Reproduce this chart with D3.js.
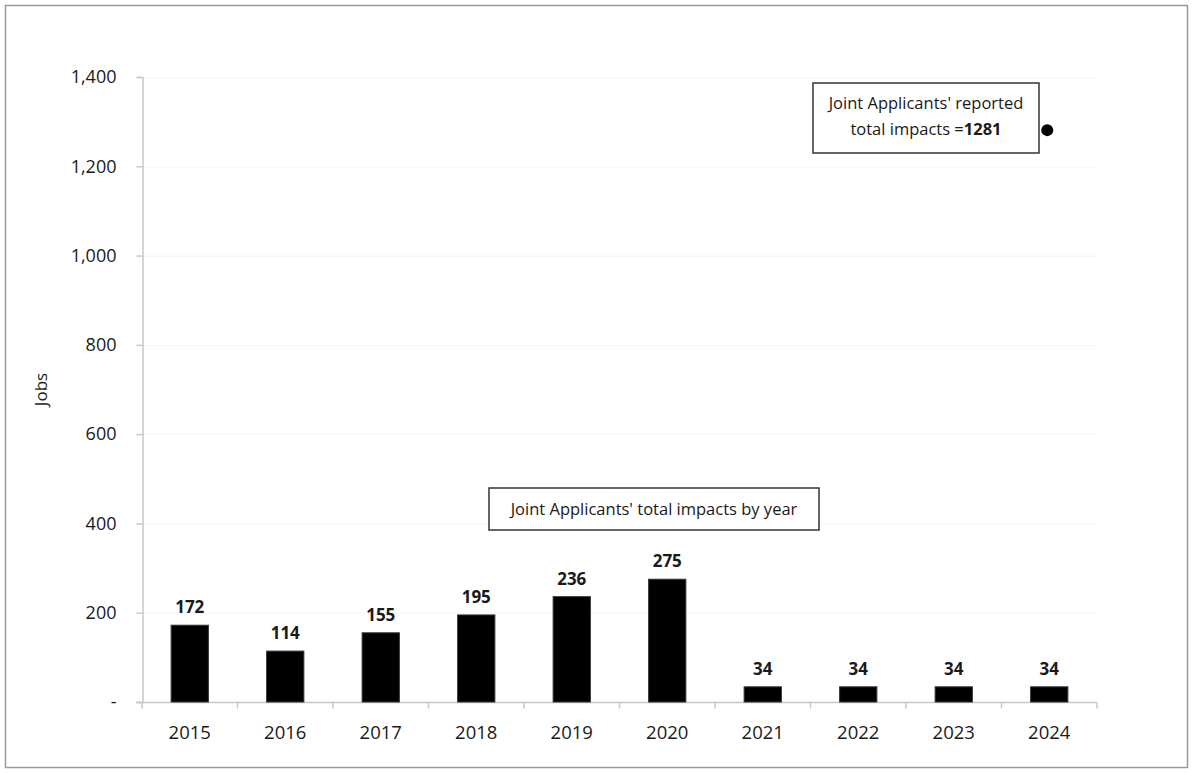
<!DOCTYPE html>
<html>
<head>
<meta charset="utf-8">
<script src="https://cdn.jsdelivr.net/npm/d3@7"></script>
<style>
  body { margin: 0; background: #fff; }
  text { font-family: "Open Sans", sans-serif; fill: #1a1a1a; }
</style>
</head>
<body>
<div id="chart"></div>
<script>
// Joint Applicants' total impacts by year (jobs)

const years = ["2015", "2016", "2017", "2018", "2019", "2020", "2021", "2022", "2023", "2024"];
const jobs = [172, 114, 155, 195, 236, 275, 34, 34, 34, 34];
const yTicks = [0, 200, 400, 600, 800, 1000, 1200, 1400];
const totalYear = "2024";
const totalJobs = 1281;

const width = 1195,
    height = 773,
    margin = ({top: 77, right: 98, bottom: 71, left: 142});

let svg = d3.select("#chart")
    .append("svg")
    .attr("width", width)
    .attr("height", height);

// outer frame
svg.append("rect")
    .attr("x", 5.5).attr("y", 5.5)
    .attr("width", 1182).attr("height", 762)
    .attr("fill", "none")
    .attr("stroke", "#999")
    .attr("stroke-width", 1.5);

let x = d3.scaleBand()
    .domain(years)
    .range([margin.left, width - margin.right])
    .paddingInner(0.61)
    .paddingOuter(0.305);

let band = d3.scaleBand()   // full band for ticks
    .domain(years)
    .range([margin.left, width - margin.right]);

let y = d3.scaleLinear()
    .domain([0, 1400])
    .range([height - margin.bottom, margin.top]);

// faint gridlines
svg.append("g")
    .selectAll("line")
    .data(yTicks.slice(1))
    .join("line")
    .attr("x1", margin.left)
    .attr("x2", width - margin.right)
    .attr("y1", d => y(d) + 0.5)
    .attr("y2", d => y(d) + 0.5)
    .attr("stroke", "#f5f5f5");

// y axis
let yAxis = svg.append("g")
    .attr("transform", `translate(${margin.left + 0.5},0)`)
    .call(d3.axisLeft(y).tickValues(yTicks).tickSize(6).tickPadding(20)
        .tickFormat(d => d === 0 ? "-" : d3.format(",")(d)));
yAxis.select(".domain").attr("stroke", "#c8c8c8").attr("stroke-width", 1.5);
yAxis.selectAll(".tick line").attr("stroke", "#c8c8c8").attr("stroke-width", 1.5);
yAxis.selectAll(".tick text").style("font-size", "18px").attr("fill", "#1a1a1a");

// x axis with ticks between bands
let xAxis = svg.append("g")
    .attr("transform", `translate(0,${height - margin.bottom + 0.5})`);
xAxis.append("line")
    .attr("x1", margin.left - 6).attr("x2", width - margin.right)
    .attr("stroke", "#c8c8c8").attr("stroke-width", 1.5);
xAxis.selectAll(".xt")
    .data(years.concat(["end"]))
    .join("line")
    .attr("class", "xt")
    .attr("x1", (d, i) => i < years.length ? band(d) : band(years[years.length - 1]) + band.bandwidth())
    .attr("x2", (d, i) => i < years.length ? band(d) : band(years[years.length - 1]) + band.bandwidth())
    .attr("y1", 0).attr("y2", 6)
    .attr("stroke", "#c8c8c8").attr("stroke-width", 1.5);
xAxis.selectAll("text")
    .data(years)
    .join("text")
    .attr("x", d => band(d) + band.bandwidth() / 2)
    .attr("y", 36)
    .attr("text-anchor", "middle")
    .style("font-size", "18.5px")
    .text(d => d);

// y label
svg.append("text")
    .attr("transform", `translate(47,${y(700)}) rotate(-90)`)
    .attr("text-anchor", "middle")
    .style("font-size", "17px")
    .text("Jobs");

// bars
let bar = svg.selectAll(".bar")
    .data(years.map((d, i) => ({year: d, num: jobs[i]})))
    .join("g")
    .attr("class", "bar");

bar.append("rect")
    .attr("fill", "#000")
    .attr("stroke", "#333")
    .attr("x", d => x(d.year))
    .attr("width", x.bandwidth())
    .attr("y", d => y(d.num))
    .attr("height", d => y(0) - y(d.num));

bar.append("text")
    .text(d => d.num)
    .attr("x", d => x(d.year) + x.bandwidth() / 2)
    .attr("y", d => y(d.num) - 12)
    .attr("text-anchor", "middle")
    .style("font-weight", "bold")
    .style("font-size", "17px");

// total impact dot
svg.append("circle")
    .attr("cx", band(totalYear) + band.bandwidth() / 2 - 2)
    .attr("cy", y(totalJobs))
    .attr("r", 6)
    .attr("fill", "#000");

// annotation boxes
let box1 = svg.append("g");
box1.append("rect")
    .attr("x", 813).attr("y", 83).attr("width", 226).attr("height", 70)
    .attr("fill", "#fff").attr("stroke", "#333").attr("stroke-width", 1.5);
box1.append("text")
    .attr("x", 926).attr("y", 109)
    .attr("text-anchor", "middle")
    .style("font-size", "16.5px")
    .text("Joint Applicants' reported");
let t2 = box1.append("text")
    .attr("x", 926).attr("y", 135)
    .attr("text-anchor", "middle")
    .style("font-size", "16.5px");
t2.append("tspan").text("total impacts =");
t2.append("tspan").style("font-weight", "bold").text(totalJobs);

let box2 = svg.append("g");
box2.append("rect")
    .attr("x", 489).attr("y", 488).attr("width", 330).attr("height", 42)
    .attr("fill", "#fff").attr("stroke", "#333").attr("stroke-width", 1.5);
box2.append("text")
    .attr("x", 654).attr("y", 515)
    .attr("text-anchor", "middle")
    .style("font-size", "16.5px")
    .text("Joint Applicants' total impacts by year");
</script>
</body>
</html>
